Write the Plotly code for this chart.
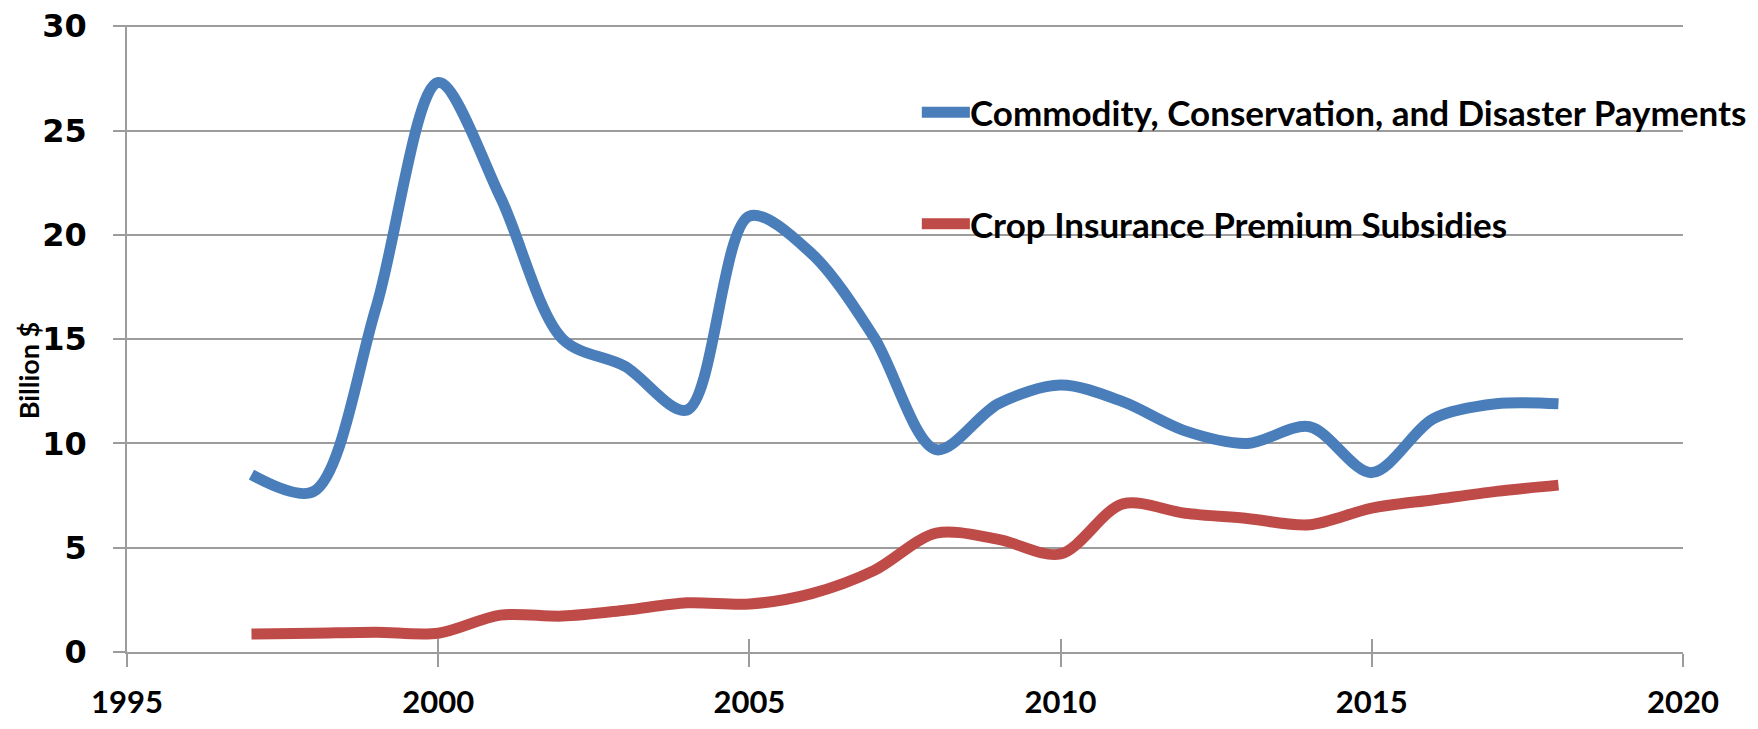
import plotly.graph_objects as go

years = list(range(1997, 2019))
commodity = [8.5, 7.7, 16.5, 27.3, 21.8, 15.0, 13.7, 11.6, 20.9, 19.1, 15.1, 9.7,
             11.9, 12.8, 12.0, 10.6, 10.0, 10.8, 8.6, 11.2, 11.9, 11.9]
crop_ins = [0.86, 0.9, 0.95, 0.9, 1.77, 1.72, 2.0, 2.36, 2.3, 2.8, 3.9, 5.7,
            5.4, 4.7, 7.1, 6.65, 6.4, 6.1, 6.9, 7.3, 7.7, 8.0]
series_names = ["Commodity, Conservation, and Disaster Payments",
                "Crop Insurance Premium Subsidies"]
x_ticks = [1995, 2000, 2005, 2010, 2015, 2020]
y_ticks = [0, 5, 10, 15, 20, 25, 30]
y_title = "Billion $"

BLUE = "#4A7EBB"
RED = "#BE4B48"
GRID = "#9C9C9C"
colors = [BLUE, RED]

fig = go.Figure()
for vals, name, col in zip([commodity, crop_ins], series_names, colors):
    fig.add_trace(go.Scatter(x=years, y=vals, mode="lines", name=name,
                             line=dict(color=col, width=11, shape="spline", smoothing=0.9),
                             showlegend=False))

# manual legend (swatch + label), positioned in paper coordinates
legend_y = [0.861, 0.683]
sw_x0, sw_x1, txt_x = 0.5108, 0.5417, 0.5404
shapes = []
annotations = []
for name, col, ly in zip(series_names, colors, legend_y):
    shapes.append(dict(type="line", xref="paper", yref="paper", x0=sw_x0, x1=sw_x1,
                       y0=ly, y1=ly, line=dict(color=col, width=11)))
    annotations.append(dict(text=name, x=txt_x, y=ly, xref="paper", yref="paper",
                            xanchor="left", yanchor="middle", showarrow=False,
                            font=dict(family="Lato", size=35, color="#000000", weight="bold")))
annotations.append(dict(text=y_title, x=-0.0635, y=0.4495, xref="paper", yref="paper",
                        textangle=-90, showarrow=False, xanchor="center", yanchor="middle",
                        font=dict(family="Lato", size=27, color="#000000", weight="bold")))

fig.update_layout(
    width=1742, height=713,
    margin=dict(l=119, r=67, t=17, b=69, autoexpand=False),
    paper_bgcolor="white", plot_bgcolor="white",
    showlegend=False,
    xaxis=dict(range=[1995, 2020.001], tickvals=x_ticks, showgrid=False,
               showline=True, linecolor=GRID, linewidth=1.5,
               ticks="outside", ticklen=13, tickcolor=GRID, tickwidth=1.5,
               ticklabelstandoff=9, ticklabeloverflow="allow",
               tickfont=dict(family="Lato", size=31, color="#000000", weight="bold"),
               zeroline=False),
    xaxis2=dict(range=[1995, 2020.001], tickvals=x_ticks, overlaying="x", anchor="y",
                side="bottom", showgrid=False, showline=False, showticklabels=False,
                ticks="inside", ticklen=13, tickcolor=GRID, tickwidth=1.5,
                zeroline=False),
    yaxis=dict(range=[0, 30.06], tickvals=y_ticks, showgrid=True, gridcolor=GRID,
               gridwidth=1.5, showline=True, linecolor=GRID, linewidth=1.5,
               ticks="outside", ticklen=12, tickcolor=GRID, tickwidth=1.5,
               ticklabelstandoff=20, ticklabeloverflow="allow",
               tickfont=dict(family="DejaVu Sans", size=32, color="#000000", weight="bold"),
               zeroline=False),
    shapes=shapes,
    annotations=annotations,
)
# invisible trace to activate xaxis2 ticks
fig.add_trace(go.Scatter(x=[x_ticks[0]], y=[None], xaxis="x2", showlegend=False,
                         hoverinfo="skip"))

fig.write_html("out.html")
